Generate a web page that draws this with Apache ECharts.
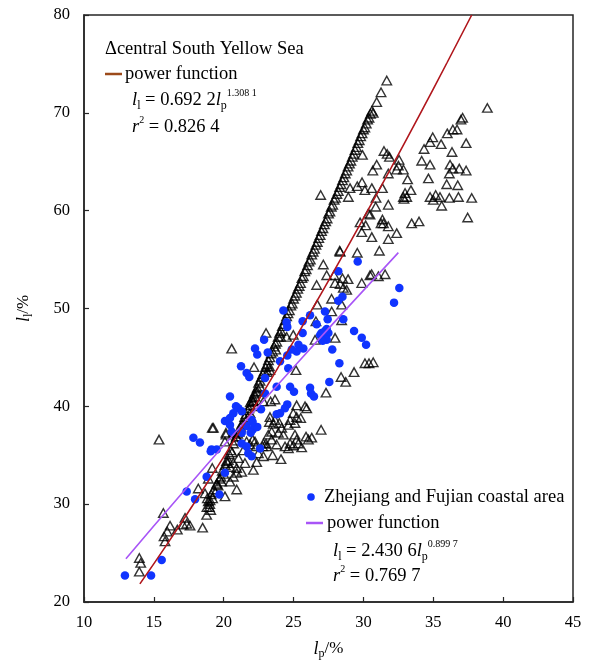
<!DOCTYPE html>
<html>
<head>
<meta charset="utf-8">
<title>lp - ll scatter</title>
<script src="https://cdn.jsdelivr.net/npm/echarts@6/dist/echarts.min.js"></script>
<style>
  html, body { margin: 0; padding: 0; background: #fff; }
  #chart { width: 589px; height: 666px; }
</style>
</head>
<body>
<div id="chart"></div>
<script>
// central South Yellow Sea - the dense diagonal band
var seaBand = [
  [18.8, 29.7], [18.9, 30.3], [19.0, 30.0], [19.1, 31.0], [19.2, 30.6], [19.3, 31.5], [19.4, 31.2],
  [19.5, 32.1], [19.6, 31.9], [19.7, 32.6], [19.8, 32.8], [19.9, 33.4], [20.0, 33.1], [20.1, 34.0],
  [20.2, 34.4], [20.3, 34.2], [20.4, 35.1], [20.5, 35.5], [20.6, 35.3], [20.7, 36.2], [20.8, 36.5],
  [20.9, 36.9], [21.0, 37.2], [21.1, 37.4], [21.2, 37.9], [21.3, 38.2], [21.4, 38.3], [21.5, 38.9],
  [21.6, 39.2], [21.7, 39.6], [21.8, 39.8], [21.9, 40.4], [22.0, 40.6], [22.1, 40.9], [22.2, 41.3],
  [22.3, 41.5], [22.4, 41.9], [22.5, 42.4], [22.6, 42.6], [22.7, 43.0], [22.8, 43.3], [22.9, 43.6],
  [23.0, 44.0], [23.1, 44.3], [23.2, 44.7], [23.3, 45.0], [23.4, 45.4], [23.5, 45.6], [23.6, 46.1],
  [23.7, 46.4], [23.8, 46.6], [23.9, 47.1], [24.0, 47.5], [24.1, 47.7], [24.2, 48.2], [24.3, 48.4],
  [24.4, 48.8], [24.5, 49.2], [24.6, 49.5], [24.7, 49.8], [24.8, 50.3], [24.9, 50.5], [25.0, 51.0],
  [25.1, 51.3], [25.2, 51.6], [25.3, 52.0], [25.4, 52.3], [25.5, 52.6], [25.6, 53.1], [25.7, 53.3],
  [25.8, 53.8], [25.9, 54.0], [26.0, 54.4], [26.1, 54.8], [26.2, 55.0], [26.3, 55.5], [26.4, 55.8],
  [26.5, 56.1], [26.6, 56.5], [26.7, 56.8], [26.8, 57.2], [26.9, 57.5], [27.0, 57.9], [27.1, 58.2],
  [27.2, 58.6], [27.3, 58.9], [27.4, 59.2], [27.5, 59.7], [27.6, 59.9], [27.7, 60.4], [27.8, 60.6],
  [27.9, 61.1], [28.0, 61.3], [28.1, 61.7], [28.2, 62.0], [28.3, 62.4], [28.4, 62.7], [28.5, 63.1],
  [28.6, 63.4], [28.7, 63.8], [28.8, 64.1], [28.9, 64.5], [29.0, 64.8], [29.1, 65.1], [29.2, 65.5],
  [29.3, 65.8], [29.4, 66.2], [29.5, 66.5], [29.6, 66.9], [29.7, 67.2], [29.8, 67.6], [29.9, 67.9],
  [30.0, 68.3], [30.1, 68.5], [30.2, 68.9], [30.3, 69.3], [30.4, 69.5], [30.5, 69.9], [30.6, 70.2],
  [30.7, 70.0]
];

// central South Yellow Sea - scattered points
var seaScatter = [
  [31.67, 73.3], [31.26, 72.1], [30.95, 71.1], [38.87, 70.5], [37.1, 69.5], [36.98, 69.3], [36.4, 68.3],
  [36.7, 68.3], [36.0, 67.9], [34.96, 67.5], [34.77, 67.0], [35.56, 66.8], [37.35, 66.9], [34.34, 66.3],
  [36.34, 66.0], [31.47, 66.1], [31.7, 65.8], [31.86, 65.5], [34.17, 65.1], [32.55, 65.2], [30.95, 64.7],
  [34.77, 64.7], [36.2, 64.7], [36.4, 64.3], [36.86, 64.3], [37.35, 64.1], [30.67, 64.1], [32.38, 64.2],
  [32.86, 64.2], [32.5, 64.6], [31.78, 63.8], [36.15, 63.8], [34.65, 63.3], [33.16, 63.2], [35.96, 62.7],
  [36.75, 62.6], [29.56, 62.5], [29.9, 62.9], [30.1, 62.1], [30.6, 62.3], [31.36, 62.3], [33.4, 62.1],
  [26.94, 61.6], [28.92, 61.4], [32.98, 61.8], [32.86, 61.4], [33.1, 61.4], [32.9, 61.2], [34.77, 61.4],
  [35.17, 61.6], [35.48, 61.4], [35.0, 61.1], [36.15, 61.3], [36.8, 61.4], [37.75, 61.3], [35.6, 60.5],
  [30.9, 61.3], [30.88, 60.4], [31.78, 60.6], [37.46, 59.3], [30.35, 59.7], [31.36, 59.1], [31.26, 58.7],
  [31.43, 58.7], [31.78, 58.4], [29.76, 58.8], [30.16, 58.5], [33.45, 58.7], [33.98, 58.9], [29.88, 57.8],
  [32.38, 57.7], [30.6, 57.3], [31.78, 57.1], [28.3, 55.9], [29.56, 55.7], [31.14, 55.9], [29.93, 65.7],
  [29.04, 62.3], [30.47, 59.6],
  [28.33, 55.8], [27.13, 54.5], [27.37, 53.4], [27.9, 53.4], [28.5, 53.1], [28.9, 53.0], [30.59, 53.5],
  [31.07, 53.3], [29.88, 52.6], [26.65, 52.4], [27.97, 52.6], [28.33, 52.5], [28.56, 52.1], [28.8, 51.9],
  [26.7, 50.4], [27.73, 49.7], [26.6, 48.7], [23.03, 47.5], [20.57, 45.9], [23.72, 45.8], [24.07, 47.1],
  [24.5, 47.1], [24.98, 47.3], [26.54, 46.8], [27.97, 47.0], [23.27, 44.1], [23.12, 43.5], [22.17, 44.0],
  [25.17, 43.7], [30.11, 44.4], [30.4, 44.4], [30.7, 44.5], [29.33, 43.5], [28.4, 43.0], [28.73, 42.5],
  [22.6, 42.0], [22.4, 41.5], [22.24, 41.0], [22.12, 40.5], [21.93, 40.1], [22.36, 40.0], [27.32, 41.4],
  [23.67, 40.7], [23.36, 40.5], [25.22, 40.1], [25.82, 40.0], [25.94, 39.8], [24.98, 39.3], [25.22, 38.9],
  [25.51, 38.8], [24.75, 38.6], [25.1, 38.3], [24.63, 38.1], [23.31, 38.9], [23.67, 38.6], [23.27, 38.4],
  [23.55, 38.2], [23.98, 38.3], [24.15, 37.8], [19.26, 37.8], [20.16, 37.1], [20.69, 37.3], [20.93, 36.9],
  [23.43, 37.4], [23.19, 37.1], [23.43, 36.6], [23.91, 37.3], [24.27, 37.1], [25.1, 37.1], [25.22, 36.6],
  [25.34, 36.2], [24.98, 36.0], [25.58, 35.8], [24.75, 36.2], [25.89, 36.9], [26.3, 36.8], [26.06, 36.6],
  [26.97, 37.6], [23.03, 36.2], [22.79, 35.9], [23.79, 36.1], [22.31, 35.9], [24.39, 35.9], [24.63, 35.7],
  [31.55, 53.5], [30.47, 53.4], [27.72, 51.0], [28.44, 50.4], [28.44, 48.8], [23.3, 43.7],
  [23.5, 35.0], [24.1, 34.6],
  [15.37, 36.6], [19.18, 37.8], [15.68, 29.1], [13.96, 24.5], [14.06, 24.0], [13.96, 23.1], [16.16, 27.8],
  [15.96, 27.2], [15.73, 26.7], [15.8, 26.2], [16.68, 27.4], [17.23, 28.6], [17.35, 28.0], [17.59, 27.8],
  [17.1, 27.9], [18.49, 27.6], [18.18, 31.6], [18.9, 32.6], [18.66, 31.1], [18.83, 30.6], [19.02, 30.4],
  [18.97, 29.7], [19.07, 29.4], [18.78, 28.9], [19.18, 33.7], [19.5, 32.0], [19.85, 32.3], [20.09, 30.8],
  [20.16, 37.3], [20.09, 36.4], [20.33, 34.5], [20.45, 33.8], [20.69, 34.2], [20.45, 32.3], [20.69, 32.8],
  [20.93, 31.5], [21.05, 34.7], [20.93, 33.7], [21.29, 33.3], [20.93, 33.2], [21.4, 35.5], [21.64, 36.4],
  [21.52, 34.2], [22.07, 36.6], [22.24, 36.4], [21.88, 36.1], [22.12, 33.5], [22.36, 34.3], [22.48, 35.2],
  [22.84, 36.2], [23.07, 35.9], [22.84, 34.9], [22.12, 40.5], [22.84, 40.5], [21.88, 39.3], [21.64, 38.6]
];

// Zhejiang and Fujian coastal area
var coastPoints = [
  [29.59, 54.8], [28.2, 53.8], [28.5, 51.2], [28.2, 50.8], [24.27, 49.8], [26.18, 49.3], [27.25, 49.7],
  [24.5, 48.6], [24.55, 48.1], [25.65, 48.7], [26.65, 48.4], [27.44, 48.9], [28.56, 48.9], [25.65, 47.5],
  [26.9, 47.3], [27.37, 47.9], [27.49, 47.5], [27.18, 46.9], [29.33, 47.7], [29.88, 47.0], [30.19, 46.3],
  [22.89, 46.8], [25.35, 46.3], [25.7, 45.9], [25.22, 45.6], [24.87, 45.8], [22.24, 45.9], [22.4, 45.3],
  [23.15, 45.5], [24.55, 45.2], [27.77, 45.8], [28.28, 44.4], [24.03, 44.6], [21.24, 44.1], [21.64, 43.4],
  [21.83, 43.0], [24.62, 43.9], [22.96, 42.9], [27.56, 42.5], [24.75, 42.0], [25.03, 41.5], [23.79, 42.0],
  [26.18, 41.9], [26.25, 41.3], [26.46, 41.0], [22.96, 41.3], [20.45, 41.0], [20.88, 40.0], [21.05, 39.8],
  [20.69, 39.3], [21.29, 39.5], [20.09, 38.5], [20.45, 38.1], [22.67, 39.7], [24.55, 40.2], [24.38, 39.8],
  [24.03, 39.3], [23.79, 39.2], [22.0, 38.6], [21.64, 38.0], [22.07, 37.6], [22.4, 37.9], [20.57, 37.4],
  [21.29, 37.3], [21.93, 37.3], [17.83, 36.8], [18.3, 36.3], [21.29, 36.2], [21.64, 35.9], [22.6, 35.7],
  [19.13, 35.6], [19.5, 35.6], [20.45, 38.8], [22.07, 38.4], [19.07, 35.4], [21.76, 35.2], [22.0, 34.9],
  [20.09, 33.2], [18.78, 32.8], [19.69, 31.0], [17.35, 31.3], [17.95, 30.5], [15.56, 24.3], [12.93, 22.7],
  [14.8, 22.7], [32.57, 52.1], [32.19, 50.6], [27.25, 47.7], [27.0, 47.5], [27.37, 46.8], [27.08, 46.7]
];

// power function fits
var seaFit = [
  [14, 21.85], [16, 26.02], [18, 30.36], [20, 34.84], [22, 39.47], [24, 44.23], [26, 49.11],
  [28, 54.11], [30, 59.22], [32, 64.43], [34, 69.75], [36, 75.17], [37.75, 80.0]
];
var coastFit = [
  [13, 24.43], [17, 31.09], [21, 37.61], [25, 43.99], [29, 50.29], [32.5, 55.71]
];

var serif = '"Liberation Serif", "Times New Roman", serif';
var red = '#b0161c';
var purple = '#a855f7';
var blue = '#1034ff';

var chart = echarts.init(document.getElementById('chart'));

// rich text pieces for the equations
var eqRich = {
  i: { fontFamily: serif, fontStyle: 'italic', fontSize: 18.5, lineHeight: 24, color: '#000' },
  n: { fontFamily: serif, fontSize: 18.5, lineHeight: 24, color: '#000' },
  sub: { fontFamily: serif, fontSize: 12, lineHeight: 12, verticalAlign: 'bottom', color: '#000' },
  sup: { fontFamily: serif, fontSize: 10, lineHeight: 10, verticalAlign: 'top', color: '#000' }
};

// axis names l_p/% and l_l/%
var nameRich = {
  i: { fontFamily: serif, fontStyle: 'italic', fontSize: 18, lineHeight: 22, color: '#000' },
  n: { fontFamily: serif, fontSize: 17, lineHeight: 22, color: '#000' },
  sub: { fontFamily: serif, fontSize: 12, lineHeight: 12, verticalAlign: 'bottom', color: '#000' }
};

function label(x, y, text) {
  return {
    type: 'text',
    x: x,
    y: y,
    z: 100,
    style: {
      text: text,
      rich: eqRich,
      font: '18.5px ' + serif,
      fill: '#000',
      align: 'left',
      verticalAlign: 'middle'
    }
  };
}

chart.setOption({
  animation: false,
  backgroundColor: '#fff',
  grid: {
    left: 84,
    right: 16,
    top: 15,
    bottom: 64,
    show: true,
    borderColor: '#262626',
    borderWidth: 1.5,
    backgroundColor: 'transparent'
  },
  xAxis: {
    type: 'value',
    min: 10,
    max: 45,
    interval: 5,
    name: '{i|l}{sub|p}{n|/%}',
    nameLocation: 'middle',
    nameGap: 36,
    nameTextStyle: { rich: nameRich },
    axisLine: { lineStyle: { color: '#262626', width: 1.5 } },
    axisTick: { inside: true, length: 5, lineStyle: { color: '#262626', width: 1.2 } },
    axisLabel: { fontFamily: serif, fontSize: 16.5, color: '#000', margin: 12 },
    splitLine: { show: false }
  },
  yAxis: {
    type: 'value',
    min: 20,
    max: 80,
    interval: 10,
    name: '{i|l}{sub|l}{n|/%}',
    nameLocation: 'middle',
    nameRotate: 90,
    nameGap: 49,
    nameTextStyle: { rich: nameRich },
    axisLine: { lineStyle: { color: '#262626', width: 1.5 } },
    axisTick: { inside: true, length: 5, lineStyle: { color: '#262626', width: 1.2 } },
    axisLabel: { fontFamily: serif, fontSize: 16.5, color: '#000', margin: 14 },
    splitLine: { show: false }
  },
  series: [
    {
      name: 'central South Yellow Sea',
      type: 'scatter',
      symbol: 'triangle',
      symbolSize: [9.5, 8.5],
      data: seaBand.concat(seaScatter),
      itemStyle: { color: 'rgba(255,255,255,0)', borderColor: '#000', borderWidth: 1.4 },
      silent: true
    },
    {
      name: 'Zhejiang and Fujian coastal area',
      type: 'scatter',
      symbol: 'circle',
      symbolSize: 8.5,
      data: coastPoints,
      itemStyle: { color: blue, opacity: 1 },
      silent: true
    },
    {
      type: 'line',
      data: seaFit,
      symbol: 'none',
      smooth: true,
      lineStyle: { color: red, width: 1.6 },
      silent: true
    },
    {
      type: 'line',
      data: coastFit,
      symbol: 'none',
      smooth: true,
      lineStyle: { color: purple, width: 1.6 },
      silent: true
    }
  ],
  graphic: [
    // upper legend block
    label(105, 49, '{n|\u0394central South Yellow Sea}'),
    { type: 'line', shape: { x1: 105, y1: 74, x2: 122, y2: 74 }, style: { stroke: '#9c4a1a', lineWidth: 2.5 } },
    label(125, 74, '{n|power function}'),
    label(132, 100, '{i|l}{sub|l}{n| = 0.692 2}{i|l}{sub|p}{sup|1.308 1}'),
    label(132, 127, '{i|r}{sup|2}{n| = 0.826 4}'),
    // lower legend block
    { type: 'circle', shape: { cx: 311, cy: 497, r: 3.8 }, style: { fill: blue } },
    label(324, 497, '{n|Zhejiang and Fujian coastal area}'),
    { type: 'line', shape: { x1: 306, y1: 523, x2: 323, y2: 523 }, style: { stroke: purple, lineWidth: 2.5 } },
    label(327, 523, '{n|power function}'),
    label(333, 551, '{i|l}{sub|l}{n| = 2.430 6}{i|l}{sub|p}{sup|0.899 7}'),
    label(333, 576, '{i|r}{sup|2}{n| = 0.769 7}')
  ]
});
</script>
</body>
</html>
